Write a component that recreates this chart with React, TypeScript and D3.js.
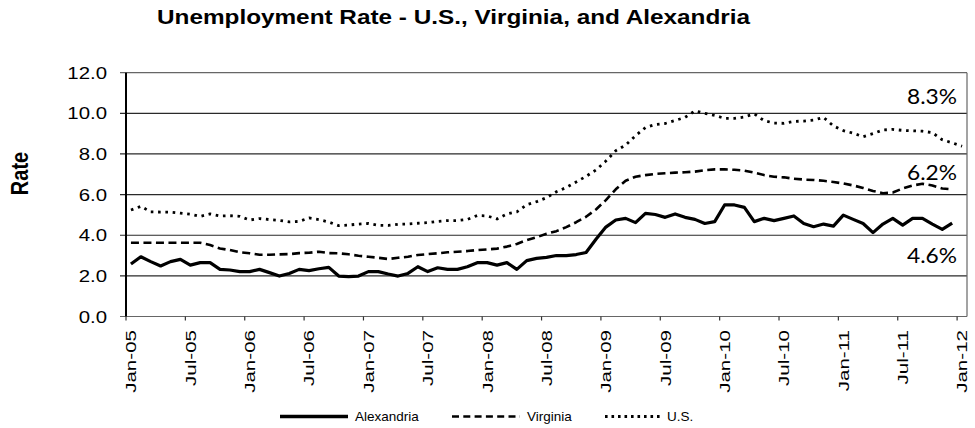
import React from "react";
import * as d3 from "d3";

const title = "Unemployment Rate - U.S., Virginia, and Alexandria";
const yAxisTitle = "Rate";
const tickLabels = ["Jan-05", "Jul-05", "Jan-06", "Jul-06", "Jan-07", "Jul-07", "Jan-08", "Jul-08", "Jan-09", "Jul-09", "Jan-10", "Jul-10", "Jan-11", "Jul-11", "Jan-12"];
const yTicks = [0, 2, 4, 6, 8, 10, 12];
const monthCount = 85;

const alexandria = [
  2.58, 2.94, 2.70, 2.49, 2.70, 2.81, 2.53, 2.65, 2.65, 2.32,
  2.29, 2.21, 2.21, 2.32, 2.16, 1.99, 2.12, 2.32, 2.26, 2.35,
  2.42, 1.99, 1.96, 1.99, 2.21, 2.21, 2.09, 1.99, 2.12, 2.45,
  2.21, 2.40, 2.32, 2.32, 2.45, 2.65, 2.65, 2.53, 2.65, 2.32,
  2.75, 2.86, 2.91, 3.00, 3.00, 3.05, 3.15, 3.80, 4.40, 4.75,
  4.83, 4.62, 5.08, 5.02, 4.88, 5.05, 4.88, 4.78, 4.58, 4.67,
  5.49, 5.49, 5.37, 4.67, 4.83, 4.72, 4.83, 4.95, 4.58, 4.42,
  4.55, 4.45, 4.99, 4.78, 4.58, 4.13, 4.55, 4.83, 4.50, 4.83,
  4.83, 4.55, 4.29, 4.60,
];

const virginia = [
  3.63, 3.63, 3.63, 3.63, 3.63, 3.63, 3.63, 3.63, 3.52, 3.35,
  3.27, 3.16, 3.11, 3.04, 3.04, 3.06, 3.07, 3.12, 3.14, 3.19,
  3.12, 3.11, 3.06, 2.99, 2.94, 2.89, 2.83, 2.89, 2.94, 3.03,
  3.07, 3.11, 3.16, 3.19, 3.22, 3.27, 3.30, 3.34, 3.44, 3.57,
  3.76, 3.90, 4.07, 4.20, 4.40, 4.64, 4.91, 5.27, 5.73, 6.26,
  6.68, 6.88, 6.96, 7.02, 7.05, 7.08, 7.10, 7.13, 7.20, 7.24,
  7.24, 7.22, 7.18, 7.08, 6.96, 6.88, 6.85, 6.78, 6.74, 6.72,
  6.68, 6.62, 6.55, 6.45, 6.33, 6.18, 6.07, 6.10, 6.30, 6.45,
  6.53, 6.45, 6.30, 6.26,
];

const us = [
  5.24, 5.42, 5.15, 5.14, 5.14, 5.09, 5.04, 4.93, 5.05, 4.95,
  4.96, 4.93, 4.75, 4.82, 4.77, 4.73, 4.66, 4.68, 4.85, 4.77,
  4.65, 4.47, 4.50, 4.55, 4.58, 4.49, 4.48, 4.54, 4.55, 4.59,
  4.62, 4.68, 4.72, 4.72, 4.78, 4.97, 4.95, 4.80, 5.05, 5.15,
  5.50, 5.65, 5.85, 6.14, 6.35, 6.62, 6.90, 7.21, 7.65, 8.16,
  8.44, 8.90, 9.30, 9.45, 9.50, 9.65, 9.80, 10.12, 10.00, 9.90,
  9.75, 9.75, 9.82, 9.97, 9.64, 9.52, 9.51, 9.60, 9.62, 9.67,
  9.80, 9.38, 9.15, 9.02, 8.85, 9.00, 9.18, 9.21, 9.16, 9.14,
  9.12, 9.05, 8.70, 8.55, 8.38,
];

const seriesNames = ["Alexandria", "Virginia", "U.S."];
const endLabels = ["4.6%", "6.2%", "8.3%"];

export default function App() {
  const W = 975;
  const H = 428;
  const plotLeft = 126;
  const plotRight = 967;
  const plotTop = 72.7;
  const plotBottom = 316.5;

  const x = d3.scaleBand<number>().domain(d3.range(monthCount)).range([plotLeft, plotRight]).padding(0);
  const bw = x.bandwidth();
  const cx = (i: number) => (x(i) as number) + bw / 2;
  const y = d3.scaleLinear().domain([0, 12]).range([plotBottom, plotTop]);

  const line = d3.line<number>().x((_, i) => cx(i)).y((d) => y(d));

  const styles = [
    { width: 3.2, dash: undefined as string | undefined },
    { width: 2.6, dash: "8,4.5" },
    { width: 2.8, dash: "2.6,4.7" },
  ];
  const series = [alexandria, virginia, us];
  const labelOffsets = [40, -9, -42];

  const tickIdx = d3.range(0, monthCount, 6);

  const legendItems = [
    { x0: 280, x1: 348, tx: 355, dash: undefined as string | undefined, w: 3.6 },
    { x0: 452, x1: 520, tx: 527, dash: "7,4.3", w: 2.6 },
    { x0: 605, x1: 662, tx: 667, dash: "2.6,3.9", w: 2.8 },
  ];
  const legendY = 416.5;

  return (
    <svg
      width={W}
      height={H}
      style={{ position: "absolute", left: 0, top: 0, background: "#fff" }}
      fontFamily="'Liberation Sans', Arial, sans-serif"
    >
      <rect x={0} y={0} width={W} height={H} fill="#fff" />
      {/* title */}
      <text x={157} y={24} fontSize={20} fontWeight="bold" textLength={593} lengthAdjust="spacingAndGlyphs" fill="#000">
        {title}
      </text>
      {/* y axis title */}
      <g transform={`translate(20,173.5) scale(1.2,1) rotate(-90)`}>
        <text textAnchor="middle" dy="0.35em" fontSize={20} fontWeight="bold" fill="#000">
          {yAxisTitle}
        </text>
      </g>

      {/* gridlines */}
      {yTicks.map((t) => (
        <g key={t}>
          <line
            x1={plotLeft - 6}
            x2={plotRight}
            y1={y(t)}
            y2={y(t)}
            stroke={t === 0 || t === 12 ? "#666" : "#2a2a2a"}
            strokeWidth={1.2}
          />
          <g transform={`translate(107,${y(t)}) scale(1.2,1)`}>
            <text textAnchor="end" dy="0.36em" fontSize={17} fill="#000">
              {t.toFixed(1)}
            </text>
          </g>
        </g>
      ))}
      {/* right border */}
      <line x1={plotRight} x2={plotRight} y1={plotTop} y2={plotBottom} stroke="#666" strokeWidth={1.2} />
      {/* left axis */}
      <line x1={plotLeft} x2={plotLeft} y1={plotTop} y2={plotBottom} stroke="#000" strokeWidth={2} />

      {/* x ticks and labels */}
      {tickIdx.map((i, k) => (
        <g key={i}>
          <line x1={x(i) as number} x2={x(i) as number} y1={plotBottom} y2={plotBottom + 4} stroke="#333" strokeWidth={1.2} />
          <g transform={`translate(${cx(i)},330) rotate(-90) scale(1.37,1)`}>
            <text textAnchor="end" dy="0.36em" fontSize={15} fill="#000">
              {tickLabels[k]}
            </text>
          </g>
        </g>
      ))}

      {/* series */}
      {series.map((s, k) => (
        <path
          key={k}
          d={line(s) as string}
          fill="none"
          stroke="#000"
          strokeWidth={styles[k].width}
          strokeDasharray={styles[k].dash}
          strokeLinejoin="round"
        />
      ))}

      {/* end labels */}
      {series.map((s, k) => (
        <text
          key={k}
          x={957}
          y={y(s[s.length - 1]) + labelOffsets[k]}
          textAnchor="end"
          fontFamily="Lato, 'Open Sans', sans-serif"
          fontSize={22}
          textLength={50}
          lengthAdjust="spacingAndGlyphs"
          fill="#000"
        >
          {endLabels[k]}
        </text>
      ))}

      {/* legend */}
      {legendItems.map((it, k) => (
        <g key={k}>
          <line x1={it.x0} x2={it.x1} y1={legendY} y2={legendY} stroke="#000" strokeWidth={it.w} strokeDasharray={it.dash} />
          <text x={it.tx} y={legendY} dy="0.35em" fontSize={13.5} fill="#000">
            {seriesNames[k]}
          </text>
        </g>
      ))}
    </svg>
  );
}
